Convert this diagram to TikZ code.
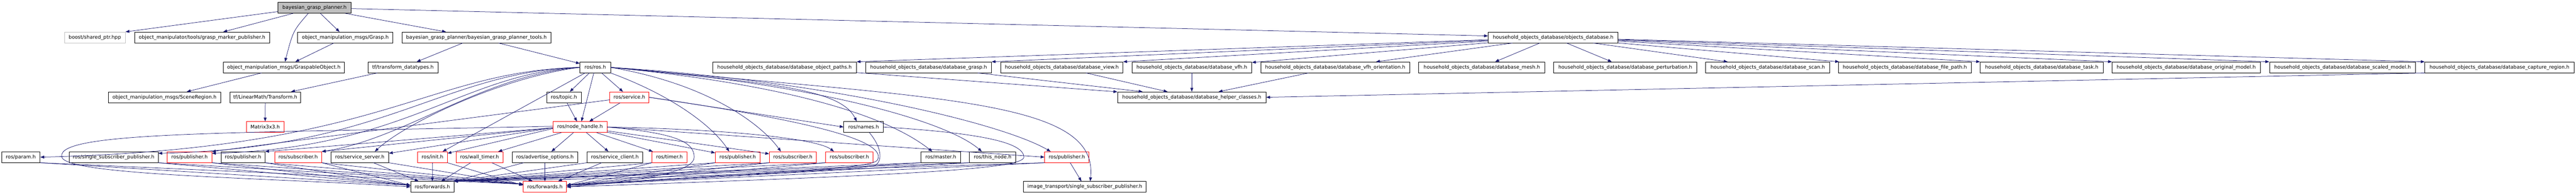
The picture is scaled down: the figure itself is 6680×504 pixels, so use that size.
\documentclass[tikz,border=0pt]{standalone}
\usepackage{fontspec}
\setmainfont{DejaVu Sans}
\usetikzlibrary{arrows.meta}
\definecolor{ecol}{HTML}{191970}
\definecolor{rootgray}{HTML}{BFBFBF}
\definecolor{boxgray}{HTML}{BFBFBF}
\begin{document}
\begin{tikzpicture}[x=1pt,y=-1pt,
  box/.style={draw=black,line width=1pt,rectangle,minimum height=28pt,inner sep=0pt,
    font=\fontsize{12.8}{15}\selectfont,text=black,anchor=center},
  redbox/.style={box,draw=red},
  e/.style={draw=ecol,line width=1pt,-{Triangle[length=10pt,width=7.5pt]}}]
\fill[white] (0,0) rectangle (6680,504);
\useasboundingbox (0,0) rectangle (6680,504);
% row 0
\node[box,fill=rootgray,minimum width=189] (root) at (815.5,20) {bayesian\_grasp\_planner.h};
% row 1
\node[box,draw=boxgray,minimum width=158] (boost) at (246,97) {boost/shared\_ptr.hpp};
\node[box,minimum width=350] (gmp) at (524,97) {object\_manipulator/tools/grasp\_marker\_publisher.h};
\node[box,minimum width=247] (grasp) at (895.5,97) {object\_manipulation\_msgs/Grasp.h};
\node[box,minimum width=387] (tools) at (1235.5,97) {bayesian\_grasp\_planner/bayesian\_grasp\_planner\_tools.h};
\node[box,minimum width=337] (odb) at (4027.5,97) {household\_objects\_database/objects\_database.h};
% row 2
\node[box,minimum width=314] (gobj) at (736,174.5) {object\_manipulation\_msgs/GraspableObject.h};
\node[box,minimum width=182] (tfdt) at (1045,174.5) {tf/transform\_datatypes.h};
\node[box,minimum width=79] (rosh) at (1543.5,174.5) {ros/ros.h};
\node[box,minimum width=373] (dpaths) at (2034.5,174.5) {household\_objects\_database/database\_object\_paths.h};
\node[box,minimum width=326] (dgrasp) at (2408,174.5) {household\_objects\_database/database\_grasp.h};
\node[box,minimum width=317] (dview) at (2753.5,174.5) {household\_objects\_database/database\_view.h};
\node[box,minimum width=311] (dvfh) at (3090.5,174.5) {household\_objects\_database/database\_vfh.h};
\node[box,minimum width=387] (dvfho) at (3462.5,174.5) {household\_objects\_database/database\_vfh\_orientation.h};
\node[box,minimum width=327] (dmesh) at (3842.5,174.5) {household\_objects\_database/database\_mesh.h};
\node[box,minimum width=371] (dpert) at (4214.5,174.5) {household\_objects\_database/database\_perturbation.h};
\node[box,minimum width=322] (dscan) at (4584,174.5) {household\_objects\_database/database\_scan.h};
\node[box,minimum width=345] (dfile) at (4939.5,174.5) {household\_objects\_database/database\_file\_path.h};
\node[box,minimum width=319] (dtask) at (5294.5,174.5) {household\_objects\_database/database\_task.h};
\node[box,minimum width=384] (dorig) at (5669,174.5) {household\_objects\_database/database\_original\_model.h};
\node[box,minimum width=379] (dscaled) at (6074.5,174.5) {household\_objects\_database/database\_scaled\_model.h};
\node[box,minimum width=387] (dcapt) at (6481.5,174.5) {household\_objects\_database/database\_capture\_region.h};
% row 3
\node[box,minimum width=291] (scene) at (426.5,252) {object\_manipulation\_msgs/SceneRegion.h};
\node[box,minimum width=184] (tfT) at (688,252) {tf/LinearMath/Transform.h};
\node[box,minimum width=89] (topic) at (1462.5,252) {ros/topic.h};
\node[redbox,minimum width=102] (service) at (1632,252) {ros/service.h};
\node[box,minimum width=385] (helper) at (3090.5,252) {household\_objects\_database/database\_helper\_classes.h};
% row 4
\node[redbox,minimum width=97] (matrix) at (687.5,329) {Matrix3x3.h};
\node[redbox,minimum width=140] (nh) at (1504,329) {ros/node\_handle.h};
\node[box,minimum width=103] (names) at (2239.5,329) {ros/names.h};
% row 5
\node[box,minimum width=100] (param) at (54,407) {ros/param.h};
\node[box,minimum width=231] (ssp) at (294.5,407) {ros/single\_subscriber\_publisher.h};
\node[redbox,minimum width=115] (pubA) at (491.5,407) {ros/publisher.h};
\node[box,minimum width=114] (pubB) at (630,407) {ros/publisher.h};
\node[redbox,minimum width=122] (subA) at (773,407) {ros/subscriber.h};
\node[box,minimum width=150] (srvs) at (933,407) {ros/service\_server.h};
\node[redbox,minimum width=77] (init) at (1121.5,407) {ros/init.h};
\node[redbox,minimum width=121] (wallt) at (1243.5,407) {ros/wall\_timer.h};
\node[box,minimum width=170] (advo) at (1413,407) {ros/advertise\_options.h};
\node[box,minimum width=145] (srvc) at (1594.5,407) {ros/service\_client.h};
\node[redbox,minimum width=90] (timer) at (1736,407) {ros/timer.h};
\node[redbox,minimum width=116] (pubC) at (1913,407) {ros/publisher.h};
\node[redbox,minimum width=122] (subB) at (2056,407) {ros/subscriber.h};
\node[redbox,minimum width=123] (subC) at (2202.5,407) {ros/subscriber.h};
\node[box,minimum width=103] (master) at (2439.5,407) {ros/master.h};
\node[box,minimum width=120] (thisn) at (2574,407) {ros/this\_node.h};
\node[redbox,minimum width=115] (pubD) at (2766.5,407) {ros/publisher.h};
% row 6
\node[box,minimum width=112] (fwdB) at (1121,484) {ros/forwards.h};
\node[redbox,minimum width=112] (fwdR) at (1413,484) {ros/forwards.h};
\node[box,minimum width=318] (itssp) at (2813,484) {image\_transport/single\_subscriber\_publisher.h};

% ---- edges from root
\draw[e] ([yshift=-10]root.west) -- (boost.north east);
\draw[e] (root) -- (gmp);
\draw[e] ([xshift=-16]root.south) .. controls (760,80) .. ([xshift=3]gobj.north);
\draw[e] (root) -- (grasp);
\draw[e] (root) -- (tools);
\draw[e] (root) -- (odb);
\draw[e] (grasp) -- (gobj);
\draw[e] (gobj) -- (scene);
\draw[e] (tools) -- (tfdt);
\draw[e] (tools) -- (rosh);
\draw[e] (tfdt) -- (tfT);
\draw[e] (tfT) -- (matrix);

% ---- ros/ros.h
\draw[e] (rosh) -- (topic);
\draw[e] (rosh) -- (nh);
\draw[e] (rosh) -- (service);
\draw[e] (topic) -- (nh);
\draw[e] (service) -- (nh);
\draw[e] (rosh) -- (init);
\draw[e] (rosh.west) .. controls (1100,185) and (1000,385) .. (param.east);
\draw[e] (rosh.west) .. controls (1150,185) and (1000,385) .. ([yshift=10]ssp.east);
\draw[e] (rosh.west) .. controls (1200,190) and (1050,385) .. ([yshift=10]pubA.east);
\draw[e] (rosh.west) .. controls (1250,195) and (1050,360) .. (subA.north east);
\draw[e] (rosh.west) .. controls (1300,200) and (1050,320) .. ([xshift=39]srvs.north);
\draw[e] (rosh.south east) .. controls (1750,250) and (1850,330) .. ([xshift=-22]pubC.north);
\draw[e] (rosh.east) .. controls (1850,220) and (1980,330) .. ([xshift=-31]subB.north);
\draw[e] (rosh.east) .. controls (2000,215) and (2180,230) .. ([xshift=-18]names.north);
\draw[e] (rosh.east) .. controls (2050,220) and (2300,300) .. ([xshift=-22]master.north);
\draw[e] (rosh.east) .. controls (2100,215) and (2450,310) .. ([xshift=-28]thisn.north);
\draw[e] (rosh.east) .. controls (2150,210) and (2600,320) .. ([xshift=-42]pubD.north);
\draw[e] (rosh.east) .. controls (2450,255) and (2850,260) .. ([xshift=14]itssp.north);

% ---- ros/node_handle.h
\draw[e] (nh) -- (wallt);
\draw[e] (nh) -- (advo);
\draw[e] (nh) -- (srvc);
\draw[e] (nh) -- (timer);
\draw[e] (nh) -- (pubC);
\draw[e] (nh) -- (subB);
\draw[e] (nh.east) .. controls (1900,335) and (2120,360) .. ([xshift=-40]subC.north);
\draw[e] (nh.east) -- (pubD.west);
\draw[e] ([yshift=-4]nh.west) -- ([yshift=10]init.east);
\draw[e] ([yshift=-2]nh.west) -- ([yshift=10]srvs.east);
\draw[e] ([yshift=-2]nh.west) -- (subA.north east);
\draw[e] ([yshift=-2]nh.west) -- (pubB.north east);
\draw[e] ([yshift=2]nh.west) .. controls (600,345) and (150,340) .. (160,405) .. controls (160,455) and (700,460) .. (fwdB.west);
\draw[e] (nh.east) .. controls (1760,345) and (1800,370) .. (1800,407) .. controls (1800,440) and (1700,465) .. (fwdR.east);

% ---- ros/service.h
\draw[e] (service) -- (pubA.north east);
\draw[e] (service.east) -- (names.west);
\draw[e] (service.east) .. controls (2150,320) and (2300,370) .. (2275,415) .. controls (2255,445) and (1700,460) .. (fwdR.east);

% ---- ros/names.h
\draw[e] ([xshift=15]names.south) .. controls (2285,380) and (2290,415) .. (2270,428) .. controls (2200,445) and (1700,462) .. (fwdB.north east);
\draw[e] (names.east) .. controls (2550,345) and (2655,370) .. (2655,407) .. controls (2655,440) and (2300,455) .. (fwdR.east);

% ---- row 5 to forwards
\foreach \n in {param,ssp,pubA,pubB,subA}{
  \draw[e] (\n.south east) -- ([yshift=4]fwdB.west);
  \draw[e] (\n.south east) -- ([yshift=7]fwdR.west);
}
\draw[e] (srvs) -- (fwdB);
\draw[e] (srvs.south east) -- ([yshift=6]fwdR.west);
\draw[e] (init) -- (fwdB);
\draw[e] (init.south east) -- ([yshift=4]fwdR.west);
\draw[e] (wallt) -- (fwdB);
\draw[e] (wallt) -- (fwdR);
\draw[e] (advo) -- (fwdB);
\draw[e] (advo) -- (fwdR);
\draw[e] (srvc) -- (fwdR);
\draw[e] (srvc.south west) -- (fwdB.north east);
\foreach \n in {timer,pubC,subB,subC,master,thisn,pubD}{
  \draw[e] (\n.south west) -- ([yshift=4]fwdR.east);
  \draw[e] (\n.south west) -- (fwdB.north east);
}
\draw[e] (pubD) -- (itssp);

% ---- objects_database.h
\draw[e] (odb) -- (dpaths.north east);
\draw[e] (odb) -- (dgrasp.north east);
\draw[e] (odb) -- (dview.north east);
\draw[e] (odb) -- (dvfh);
\draw[e] (odb) -- (dvfho);
\draw[e] (odb) -- (dmesh);
\draw[e] (odb) -- (dpert);
\draw[e] (odb) -- (dscan);
\draw[e] (odb) -- (dfile);
\draw[e] (odb) -- (dtask.north west);
\draw[e] (odb) -- (dorig.north west);
\draw[e] (odb) -- (dscaled.north west);
\draw[e] (odb) -- (dcapt.north west);
% ---- helper classes
\draw[e] (dpaths) -- (helper);
\draw[e] (dgrasp) -- (helper);
\draw[e] (dview) -- (helper);
\draw[e] (dvfh) -- (helper);
\draw[e] (dvfho) -- (helper);
\draw[e] (dcapt.south west) -- (helper.east);
\end{tikzpicture}
\end{document}
